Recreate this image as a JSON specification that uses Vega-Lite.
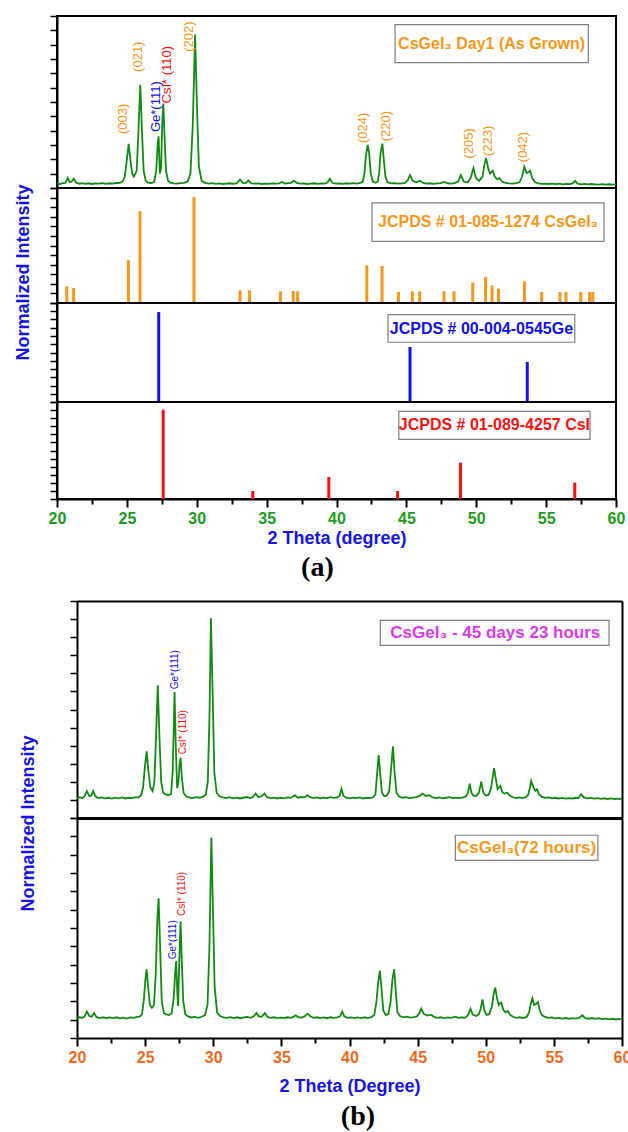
{
"$schema":"https://vega.github.io/schema/vega-lite/v6.json",
"padding":{"left":12,"top":14,"right":0,"bottom":0},
"spacing":18,
"config":{"font":"Liberation Sans","view":{"stroke":"#000000","strokeWidth":2}},
"datasets":{
"day1":[{"t":20.0,"i":3.2},{"t":20.2,"i":2.8},{"t":20.4,"i":3.4},{"t":20.6,"i":3.6},{"t":20.77,"i":7.0},{"t":20.9,"i":4.2},{"t":21.05,"i":4.4},{"t":21.2,"i":6.5},{"t":21.35,"i":3.8},{"t":21.6,"i":3.0},{"t":21.8,"i":3.4},{"t":22.0,"i":2.9},{"t":22.25,"i":3.3},{"t":22.5,"i":2.8},{"t":22.75,"i":3.2},{"t":23.0,"i":3.0},{"t":23.25,"i":3.4},{"t":23.5,"i":2.9},{"t":23.75,"i":3.3},{"t":24.0,"i":3.1},{"t":24.25,"i":3.5},{"t":24.5,"i":3.6},{"t":24.7,"i":4.5},{"t":24.85,"i":8},{"t":25.0,"i":20},{"t":25.13,"i":30.8},{"t":25.25,"i":20},{"t":25.38,"i":10},{"t":25.5,"i":8},{"t":25.7,"i":12},{"t":25.83,"i":40},{"t":25.96,"i":72},{"t":26.08,"i":40},{"t":26.2,"i":12},{"t":26.35,"i":5},{"t":26.5,"i":3.8},{"t":26.75,"i":3.5},{"t":26.95,"i":4.2},{"t":27.1,"i":12},{"t":27.2,"i":30},{"t":27.27,"i":36},{"t":27.36,"i":10},{"t":27.45,"i":14},{"t":27.53,"i":45},{"t":27.61,"i":59},{"t":27.7,"i":35},{"t":27.8,"i":12},{"t":27.95,"i":5},{"t":28.1,"i":3.8},{"t":28.35,"i":3.3},{"t":28.6,"i":3.0},{"t":28.85,"i":3.4},{"t":29.1,"i":3.6},{"t":29.35,"i":4.5},{"t":29.55,"i":10},{"t":29.72,"i":45},{"t":29.88,"i":107},{"t":30.02,"i":55},{"t":30.15,"i":15},{"t":30.35,"i":5},{"t":30.6,"i":3.5},{"t":30.85,"i":3.1},{"t":31.1,"i":3.4},{"t":31.35,"i":2.9},{"t":31.6,"i":3.2},{"t":31.85,"i":2.8},{"t":32.1,"i":3.1},{"t":32.35,"i":3.3},{"t":32.6,"i":2.9},{"t":32.85,"i":3.2},{"t":33.1,"i":5.8},{"t":33.3,"i":3.6},{"t":33.5,"i":3.4},{"t":33.7,"i":5.2},{"t":33.9,"i":3.3},{"t":34.15,"i":3.0},{"t":34.4,"i":3.2},{"t":34.65,"i":2.8},{"t":34.9,"i":3.1},{"t":35.15,"i":2.9},{"t":35.4,"i":3.2},{"t":35.65,"i":3.0},{"t":35.9,"i":3.3},{"t":36.1,"i":4.2},{"t":36.3,"i":3.1},{"t":36.55,"i":3.4},{"t":36.75,"i":3.6},{"t":36.95,"i":5.0},{"t":37.15,"i":3.6},{"t":37.4,"i":3.0},{"t":37.65,"i":3.2},{"t":37.9,"i":2.8},{"t":38.15,"i":3.1},{"t":38.4,"i":3.3},{"t":38.65,"i":2.9},{"t":38.9,"i":3.2},{"t":39.15,"i":3.0},{"t":39.35,"i":3.8},{"t":39.53,"i":6.5},{"t":39.7,"i":3.6},{"t":39.95,"i":3.0},{"t":40.2,"i":3.2},{"t":40.45,"i":2.9},{"t":40.7,"i":3.3},{"t":40.95,"i":3.0},{"t":41.2,"i":3.4},{"t":41.45,"i":3.1},{"t":41.7,"i":3.5},{"t":41.88,"i":4.5},{"t":42.0,"i":10},{"t":42.1,"i":22},{"t":42.23,"i":30},{"t":42.33,"i":25},{"t":42.45,"i":10},{"t":42.6,"i":4.5},{"t":42.8,"i":3.6},{"t":42.95,"i":4.5},{"t":43.05,"i":10},{"t":43.15,"i":24},{"t":43.28,"i":31},{"t":43.4,"i":18},{"t":43.5,"i":8},{"t":43.65,"i":4},{"t":43.9,"i":3.2},{"t":44.15,"i":3.4},{"t":44.4,"i":3.0},{"t":44.65,"i":3.3},{"t":44.9,"i":3.6},{"t":45.1,"i":5.5},{"t":45.26,"i":9},{"t":45.45,"i":5},{"t":45.7,"i":4.0},{"t":45.97,"i":5.0},{"t":46.2,"i":3.5},{"t":46.45,"i":3.0},{"t":46.7,"i":3.3},{"t":46.95,"i":2.9},{"t":47.2,"i":3.2},{"t":47.45,"i":3.4},{"t":47.7,"i":4.2},{"t":47.95,"i":3.3},{"t":48.2,"i":3.1},{"t":48.45,"i":3.4},{"t":48.7,"i":4.5},{"t":48.9,"i":9},{"t":49.1,"i":4.5},{"t":49.4,"i":4.0},{"t":49.6,"i":7},{"t":49.8,"i":14},{"t":49.98,"i":7},{"t":50.2,"i":5},{"t":50.45,"i":8},{"t":50.58,"i":16},{"t":50.7,"i":21},{"t":50.85,"i":14},{"t":50.98,"i":10},{"t":51.18,"i":12},{"t":51.32,"i":8},{"t":51.5,"i":6},{"t":51.65,"i":7},{"t":51.85,"i":4.5},{"t":52.1,"i":3.5},{"t":52.35,"i":3.2},{"t":52.6,"i":3.0},{"t":52.85,"i":3.4},{"t":53.1,"i":4},{"t":53.28,"i":8},{"t":53.44,"i":14.7},{"t":53.6,"i":10.5},{"t":53.72,"i":11},{"t":53.85,"i":12},{"t":54.0,"i":7},{"t":54.2,"i":4},{"t":54.45,"i":3.2},{"t":54.7,"i":2.9},{"t":54.95,"i":3.1},{"t":55.2,"i":2.8},{"t":55.45,"i":3.0},{"t":55.7,"i":2.7},{"t":55.95,"i":3.0},{"t":56.2,"i":2.6},{"t":56.45,"i":2.9},{"t":56.7,"i":2.7},{"t":56.9,"i":3.2},{"t":57.07,"i":5},{"t":57.25,"i":3.0},{"t":57.5,"i":2.6},{"t":57.75,"i":2.9},{"t":58.0,"i":2.5},{"t":58.25,"i":2.8},{"t":58.5,"i":2.6},{"t":58.75,"i":2.4},{"t":59.0,"i":2.7},{"t":59.25,"i":2.4},{"t":59.5,"i":2.6},{"t":59.75,"i":2.3},{"t":60.0,"i":2.5}],
"d45":[{"t":20.0,"i":10.8},{"t":20.2,"i":11.5},{"t":20.4,"i":11.0},{"t":20.55,"i":12.0},{"t":20.72,"i":14.9},{"t":20.9,"i":12.2},{"t":21.05,"i":12.4},{"t":21.19,"i":14.9},{"t":21.35,"i":12.0},{"t":21.55,"i":11.0},{"t":21.8,"i":11.4},{"t":22.05,"i":10.9},{"t":22.3,"i":11.2},{"t":22.55,"i":10.7},{"t":22.8,"i":11.3},{"t":23.05,"i":10.9},{"t":23.3,"i":11.4},{"t":23.55,"i":10.8},{"t":23.8,"i":11.2},{"t":24.05,"i":11.0},{"t":24.3,"i":11.5},{"t":24.5,"i":11.3},{"t":24.7,"i":12.5},{"t":24.85,"i":17},{"t":24.98,"i":28},{"t":25.11,"i":36.9},{"t":25.24,"i":26},{"t":25.38,"i":17},{"t":25.55,"i":14.9},{"t":25.68,"i":20},{"t":25.8,"i":45},{"t":25.93,"i":73.4},{"t":26.05,"i":45},{"t":26.18,"i":20},{"t":26.32,"i":14},{"t":26.5,"i":13.1},{"t":26.7,"i":12.6},{"t":26.9,"i":13.2},{"t":27.02,"i":25},{"t":27.1,"i":50},{"t":27.16,"i":69.7},{"t":27.25,"i":40},{"t":27.35,"i":16.5},{"t":27.45,"i":20},{"t":27.53,"i":30},{"t":27.6,"i":33.4},{"t":27.7,"i":22},{"t":27.82,"i":14},{"t":28.0,"i":12},{"t":28.25,"i":11.3},{"t":28.5,"i":11.0},{"t":28.75,"i":11.5},{"t":29.0,"i":11.2},{"t":29.25,"i":11.8},{"t":29.45,"i":13},{"t":29.6,"i":20},{"t":29.72,"i":55},{"t":29.83,"i":110.4},{"t":29.95,"i":70},{"t":30.08,"i":25},{"t":30.25,"i":14},{"t":30.45,"i":12},{"t":30.7,"i":11.4},{"t":30.95,"i":11.0},{"t":31.2,"i":11.5},{"t":31.45,"i":10.9},{"t":31.7,"i":11.3},{"t":31.95,"i":10.8},{"t":32.2,"i":11.2},{"t":32.45,"i":11.6},{"t":32.7,"i":11.0},{"t":32.9,"i":11.5},{"t":33.11,"i":13.5},{"t":33.3,"i":11.6},{"t":33.5,"i":11.8},{"t":33.76,"i":13.5},{"t":33.95,"i":11.5},{"t":34.2,"i":11.0},{"t":34.45,"i":11.3},{"t":34.7,"i":10.8},{"t":34.95,"i":11.2},{"t":35.2,"i":10.9},{"t":35.45,"i":11.4},{"t":35.7,"i":11.1},{"t":35.99,"i":12.6},{"t":36.2,"i":11.2},{"t":36.45,"i":11.6},{"t":36.7,"i":11.4},{"t":36.9,"i":12.6},{"t":37.1,"i":11.5},{"t":37.35,"i":11.0},{"t":37.6,"i":11.4},{"t":37.85,"i":10.9},{"t":38.1,"i":11.3},{"t":38.35,"i":11.0},{"t":38.6,"i":11.5},{"t":38.85,"i":11.1},{"t":39.1,"i":11.4},{"t":39.28,"i":12.5},{"t":39.41,"i":16.2},{"t":39.55,"i":12.3},{"t":39.75,"i":11.2},{"t":40.0,"i":10.9},{"t":40.25,"i":11.3},{"t":40.5,"i":11.0},{"t":40.75,"i":11.4},{"t":41.0,"i":10.8},{"t":41.25,"i":11.2},{"t":41.5,"i":11.0},{"t":41.75,"i":11.6},{"t":41.9,"i":13},{"t":42.02,"i":24},{"t":42.14,"i":34.8},{"t":42.26,"i":24},{"t":42.38,"i":14},{"t":42.55,"i":12},{"t":42.75,"i":12.5},{"t":42.92,"i":15},{"t":43.06,"i":28},{"t":43.19,"i":39.6},{"t":43.31,"i":25},{"t":43.45,"i":14},{"t":43.65,"i":11.8},{"t":43.9,"i":11.2},{"t":44.15,"i":11.5},{"t":44.4,"i":11.0},{"t":44.65,"i":11.3},{"t":44.9,"i":11.6},{"t":45.15,"i":12.2},{"t":45.36,"i":13.5},{"t":45.6,"i":12.2},{"t":45.86,"i":12.6},{"t":46.1,"i":11.4},{"t":46.35,"i":11.0},{"t":46.6,"i":11.4},{"t":46.85,"i":10.9},{"t":47.1,"i":11.2},{"t":47.35,"i":11.5},{"t":47.6,"i":11.0},{"t":47.85,"i":11.3},{"t":48.1,"i":11.0},{"t":48.35,"i":11.4},{"t":48.55,"i":12},{"t":48.7,"i":14},{"t":48.82,"i":19},{"t":48.95,"i":14},{"t":49.1,"i":12.4},{"t":49.3,"i":12.2},{"t":49.5,"i":14},{"t":49.67,"i":20.1},{"t":49.82,"i":14},{"t":50.0,"i":12.5},{"t":50.2,"i":12.8},{"t":50.38,"i":16},{"t":50.5,"i":22},{"t":50.61,"i":27.6},{"t":50.73,"i":22},{"t":50.87,"i":16},{"t":50.98,"i":17},{"t":51.08,"i":17.7},{"t":51.2,"i":14.5},{"t":51.35,"i":13.5},{"t":51.58,"i":14},{"t":51.75,"i":12.5},{"t":51.95,"i":11.6},{"t":52.2,"i":11.0},{"t":52.45,"i":11.4},{"t":52.7,"i":11.0},{"t":52.95,"i":11.5},{"t":53.12,"i":13},{"t":53.25,"i":17},{"t":53.33,"i":20.5},{"t":53.5,"i":17},{"t":53.63,"i":15},{"t":53.77,"i":15.9},{"t":53.92,"i":13},{"t":54.1,"i":11.8},{"t":54.35,"i":11.2},{"t":54.6,"i":11.4},{"t":54.85,"i":10.9},{"t":55.1,"i":11.2},{"t":55.35,"i":10.8},{"t":55.6,"i":11.1},{"t":55.85,"i":10.7},{"t":56.1,"i":11.0},{"t":56.35,"i":10.8},{"t":56.6,"i":11.2},{"t":56.8,"i":11.0},{"t":57.0,"i":13.1},{"t":57.2,"i":11.4},{"t":57.45,"i":10.9},{"t":57.7,"i":11.1},{"t":57.95,"i":10.7},{"t":58.2,"i":11.0},{"t":58.45,"i":10.6},{"t":58.7,"i":10.9},{"t":58.95,"i":10.5},{"t":59.2,"i":10.8},{"t":59.45,"i":10.4},{"t":59.7,"i":10.7},{"t":60.0,"i":10.5}],
"h72":[{"t":20.0,"i":10.9},{"t":20.2,"i":11.3},{"t":20.4,"i":11.0},{"t":20.56,"i":11.8},{"t":20.72,"i":14.4},{"t":20.9,"i":12.0},{"t":21.08,"i":11.6},{"t":21.25,"i":13.6},{"t":21.42,"i":11.5},{"t":21.65,"i":10.9},{"t":21.9,"i":11.3},{"t":22.15,"i":10.8},{"t":22.4,"i":11.2},{"t":22.65,"i":10.9},{"t":22.9,"i":11.3},{"t":23.15,"i":10.7},{"t":23.4,"i":11.1},{"t":23.65,"i":10.6},{"t":23.9,"i":11.2},{"t":24.15,"i":11.0},{"t":24.4,"i":11.5},{"t":24.6,"i":11.7},{"t":24.78,"i":13},{"t":24.92,"i":22},{"t":25.02,"i":32},{"t":25.11,"i":37.5},{"t":25.22,"i":28},{"t":25.35,"i":18},{"t":25.5,"i":16.5},{"t":25.65,"i":18},{"t":25.78,"i":35},{"t":25.9,"i":65},{"t":25.99,"i":76.2},{"t":26.1,"i":50},{"t":26.22,"i":20},{"t":26.38,"i":13.5},{"t":26.55,"i":12.9},{"t":26.75,"i":12.5},{"t":26.95,"i":13.5},{"t":27.1,"i":22},{"t":27.2,"i":35},{"t":27.28,"i":42},{"t":27.36,"i":25},{"t":27.42,"i":17.5},{"t":27.5,"i":40},{"t":27.6,"i":63.5},{"t":27.7,"i":40},{"t":27.8,"i":20},{"t":27.95,"i":13},{"t":28.15,"i":11.8},{"t":28.4,"i":11.2},{"t":28.65,"i":11.5},{"t":28.9,"i":11.0},{"t":29.15,"i":11.6},{"t":29.4,"i":12.5},{"t":29.58,"i":18},{"t":29.72,"i":50},{"t":29.86,"i":109.3},{"t":29.98,"i":70},{"t":30.1,"i":28},{"t":30.28,"i":14},{"t":30.5,"i":12},{"t":30.75,"i":11.3},{"t":31.0,"i":11.0},{"t":31.25,"i":11.4},{"t":31.5,"i":10.9},{"t":31.75,"i":11.3},{"t":32.0,"i":10.8},{"t":32.25,"i":11.2},{"t":32.5,"i":11.5},{"t":32.75,"i":11.0},{"t":32.97,"i":11.8},{"t":33.17,"i":13.6},{"t":33.35,"i":11.8},{"t":33.55,"i":11.6},{"t":33.79,"i":13.6},{"t":33.98,"i":11.5},{"t":34.2,"i":11.0},{"t":34.45,"i":11.3},{"t":34.7,"i":10.8},{"t":34.95,"i":11.1},{"t":35.2,"i":10.9},{"t":35.45,"i":11.3},{"t":35.7,"i":11.0},{"t":35.88,"i":11.5},{"t":36.04,"i":12.4},{"t":36.25,"i":11.3},{"t":36.5,"i":11.2},{"t":36.7,"i":11.8},{"t":36.92,"i":13.3},{"t":37.12,"i":11.9},{"t":37.35,"i":11.0},{"t":37.6,"i":11.3},{"t":37.85,"i":10.9},{"t":38.1,"i":11.2},{"t":38.35,"i":10.8},{"t":38.6,"i":11.3},{"t":38.85,"i":11.0},{"t":39.1,"i":11.3},{"t":39.3,"i":11.8},{"t":39.47,"i":14.4},{"t":39.62,"i":11.8},{"t":39.85,"i":11.0},{"t":40.1,"i":11.2},{"t":40.35,"i":10.8},{"t":40.6,"i":11.2},{"t":40.85,"i":10.9},{"t":41.1,"i":11.3},{"t":41.35,"i":10.9},{"t":41.6,"i":11.4},{"t":41.82,"i":12.5},{"t":41.98,"i":20},{"t":42.1,"i":30},{"t":42.23,"i":36.7},{"t":42.35,"i":27},{"t":42.48,"i":15},{"t":42.65,"i":12.6},{"t":42.85,"i":13},{"t":43.02,"i":20},{"t":43.15,"i":32},{"t":43.28,"i":37.5},{"t":43.4,"i":25},{"t":43.52,"i":14},{"t":43.7,"i":12},{"t":43.95,"i":11.3},{"t":44.2,"i":11.6},{"t":44.45,"i":11.1},{"t":44.7,"i":11.4},{"t":44.95,"i":11.8},{"t":45.12,"i":13.5},{"t":45.27,"i":16},{"t":45.45,"i":13.2},{"t":45.7,"i":12.2},{"t":46.0,"i":12.7},{"t":46.2,"i":11.5},{"t":46.45,"i":11.0},{"t":46.7,"i":11.3},{"t":46.95,"i":10.9},{"t":47.2,"i":11.2},{"t":47.45,"i":11.0},{"t":47.77,"i":11.6},{"t":48.0,"i":11.0},{"t":48.25,"i":11.3},{"t":48.5,"i":11.1},{"t":48.7,"i":12.5},{"t":48.88,"i":16},{"t":49.05,"i":12.8},{"t":49.3,"i":12.0},{"t":49.5,"i":13},{"t":49.63,"i":16},{"t":49.76,"i":21.1},{"t":49.9,"i":15},{"t":50.05,"i":12.6},{"t":50.25,"i":13},{"t":50.45,"i":17},{"t":50.58,"i":24},{"t":50.7,"i":27.5},{"t":50.82,"i":22},{"t":50.95,"i":18},{"t":51.05,"i":19},{"t":51.14,"i":19.3},{"t":51.28,"i":15.5},{"t":51.45,"i":14},{"t":51.63,"i":14.7},{"t":51.8,"i":12.5},{"t":52.0,"i":11.6},{"t":52.25,"i":11.0},{"t":52.5,"i":11.3},{"t":52.75,"i":10.9},{"t":53.0,"i":11.5},{"t":53.18,"i":14},{"t":53.3,"i":18.5},{"t":53.42,"i":21.7},{"t":53.55,"i":18},{"t":53.68,"i":18.5},{"t":53.83,"i":19.6},{"t":53.97,"i":15},{"t":54.12,"i":12.5},{"t":54.35,"i":11.5},{"t":54.6,"i":11.0},{"t":54.85,"i":11.2},{"t":55.1,"i":10.7},{"t":55.35,"i":11.0},{"t":55.6,"i":10.6},{"t":55.85,"i":10.9},{"t":56.1,"i":10.5},{"t":56.35,"i":10.8},{"t":56.6,"i":10.6},{"t":56.85,"i":11.0},{"t":57.08,"i":12.4},{"t":57.3,"i":10.8},{"t":57.55,"i":10.5},{"t":57.8,"i":10.9},{"t":58.05,"i":10.4},{"t":58.3,"i":10.8},{"t":58.55,"i":10.3},{"t":58.8,"i":10.6},{"t":59.05,"i":10.2},{"t":59.3,"i":10.5},{"t":59.55,"i":10.1},{"t":59.8,"i":10.4},{"t":60.0,"i":10.2}],
"csgei3":[{"t":20.70,"i":17.4},{"t":21.19,"i":15.7},{"t":25.11,"i":44.6},{"t":25.94,"i":95.7},{"t":29.80,"i":110.7},{"t":33.10,"i":13.2},{"t":33.78,"i":13.2},{"t":35.99,"i":12.2},{"t":36.90,"i":12.5},{"t":37.22,"i":12.2},{"t":42.17,"i":39.3},{"t":43.26,"i":38.6},{"t":44.43,"i":11.5},{"t":45.43,"i":12.2},{"t":45.95,"i":12.2},{"t":47.69,"i":12.2},{"t":48.41,"i":12.2},{"t":49.75,"i":21.2},{"t":50.67,"i":27.1},{"t":51.13,"i":18.4},{"t":51.59,"i":15.0},{"t":53.45,"i":22.6},{"t":54.68,"i":11.5},{"t":55.99,"i":11.5},{"t":56.42,"i":11.5},{"t":57.48,"i":11.5},{"t":58.11,"i":11.5},{"t":58.34,"i":11.5}],
"ge":[{"t":27.28,"i":109},{"t":45.26,"i":66.7},{"t":53.65,"i":48.5}],
"csi":[{"t":27.60,"i":110.5},{"t":34.01,"i":9.9},{"t":39.45,"i":27.2},{"t":44.37,"i":9.9},{"t":48.87,"i":45},{"t":57.05,"i":20.2}],
"lab1":[{"t":24.70,"i":37.7,"label":"(003)","phase":"CsGeI3"},{"t":25.77,"i":81,"label":"(021)","phase":"CsGeI3"},{"t":27.08,"i":39,"label":"Ge*(111)","phase":"Ge"},{"t":27.87,"i":59,"label":"CsI* (110)","phase":"CsI"},{"t":29.45,"i":95,"label":"(202)","phase":"CsGeI3"},{"t":41.87,"i":31.4,"label":"(024)","phase":"CsGeI3"},{"t":43.54,"i":32.6,"label":"(220)","phase":"CsGeI3"},{"t":49.5,"i":20.5,"label":"(205)","phase":"CsGeI3"},{"t":50.86,"i":22.3,"label":"(223)","phase":"CsGeI3"},{"t":53.37,"i":18,"label":"(042)","phase":"CsGeI3"}],
"lab5":[{"t":27.17,"i":71.2,"label":"Ge*(111)","phase":"Ge"},{"t":27.75,"i":35.2,"label":"CsI* (110)","phase":"CsI"}],
"lab6":[{"t":27.05,"i":42.9,"label":"Ge*(111)","phase":"Ge"},{"t":27.69,"i":66.5,"label":"CsI* (110)","phase":"CsI"}],
"boxes":[{"panel":"p1","t":44.19,"t2":58.02,"i":87.5,"i2":114},{"panel":"p2","t":42.54,"t2":59.14,"i":64.4,"i2":104.4},{"panel":"p3","t":43.69,"t2":57.05,"i":72.4,"i2":105.8},{"panel":"p4","t":44.46,"t2":58.14,"i":73.8,"i2":108.5},{"panel":"p5","t":42.26,"t2":59.05,"i":95.5,"i2":109.3},{"panel":"p6","t":47.77,"t2":58.23,"i":96.9,"i2":110.6}],
"legends":[{"panel":"p1","t":51.1,"i":100.7,"text":"CsGeI₃ Day1 (As Grown)","phase":"CsGeI3"},{"panel":"p2","t":50.84,"i":84.4,"text":"JCPDS # 01-085-1274 CsGeI₃","phase":"CsGeI3"},{"panel":"p3","t":50.37,"i":88.5,"text":"JCPDS # 00-004-0545Ge","phase":"Ge"},{"panel":"p4","t":51.3,"i":91,"text":"JCPDS # 01-089-4257 CsI","phase":"CsI"},{"panel":"p5","t":50.7,"i":102.4,"text":"CsGeI₃ - 45 days 23 hours","phase":"aged"},{"panel":"p6","t":53.0,"i":103.8,"text":"CsGeI₃(72 hours)","phase":"CsGeI3"}]
},
"vconcat":[
{
"title":{"text":"(a)","orient":"bottom","font":"Liberation Serif","fontSize":28,"fontWeight":"bold","color":"#000000","offset":6,"anchor":"middle","frame":"bounds","dx":-2},
"spacing":0,
"bounds":"flush",
"vconcat":[
{"width":559,"height":172,
"encoding":{"x":{"field":"t","type":"quantitative","scale":{"domain":[20,60],"nice":false},"axis":null},"y":{"field":"i","type":"quantitative","scale":{"domain":[0,120],"nice":false},"axis":{"values":[0,10,20,30,40,50,60,70,80,90,100,110,120],"labels":false,"tickSize":7,"tickWidth":1.5,"tickColor":"#000000","domainColor":"#000000","domainWidth":2,"grid":false,"title":null}}},
"layer":[
{"data":{"name":"day1"},"mark":{"type":"line","color":"#138A13","strokeWidth":1.8}},
{"data":{"name":"lab1"},"mark":{"type":"text","angle":270,"align":"left","baseline":"middle","fontSize":13},"encoding":{"text":{"field":"label"},"color":{"field":"phase","type":"nominal","scale":{"domain":["CsGeI3","Ge","CsI","aged"],"range":["#F7981D","#1010F0","#FF1010","#D93AF0"]},"legend":null}}},
{"data":{"name":"boxes"},"transform":[{"filter":"datum.panel==='p1'"}],"mark":{"type":"rect","fill":"#FFFFFF","stroke":"#7F7F7F","strokeWidth":1.2},"encoding":{"x2":{"field":"t2"},"y2":{"field":"i2"}}},
{"data":{"name":"legends"},"transform":[{"filter":"datum.panel==='p1'"}],"mark":{"type":"text","fontSize":16,"fontWeight":"bold"},"encoding":{"text":{"field":"text"},"color":{"field":"phase","type":"nominal","scale":{"domain":["CsGeI3","Ge","CsI","aged"],"range":["#F7981D","#1010F0","#FF1010","#D93AF0"]},"legend":null}}}
]},
{"width":559,"height":115,
"encoding":{"x":{"field":"t","type":"quantitative","scale":{"domain":[20,60],"nice":false},"axis":null},"y":{"field":"i","type":"quantitative","scale":{"domain":[0,120],"nice":false},"axis":{"values":[0,10,20,30,40,50,60,70,80,90,100,110,120],"labels":false,"tickSize":7,"tickWidth":1.5,"tickColor":"#000000","domainColor":"#000000","domainWidth":2,"grid":false,"title":"Normalized Intensity","titleColor":"#1414E6","titleFontSize":18,"titleFontWeight":"bold","titleAngle":270,"titleX":-29,"titleY":84,"titleAlign":"center","titleBaseline":"alphabetic"}}},
"layer":[
{"data":{"name":"csgei3"},"mark":{"type":"rule","color":"#F7981D","strokeWidth":3},"encoding":{"y2":{"datum":0}}},
{"data":{"name":"boxes"},"transform":[{"filter":"datum.panel==='p2'"}],"mark":{"type":"rect","fill":"#FFFFFF","stroke":"#7F7F7F","strokeWidth":1.2},"encoding":{"x2":{"field":"t2"},"y2":{"field":"i2"}}},
{"data":{"name":"legends"},"transform":[{"filter":"datum.panel==='p2'"}],"mark":{"type":"text","fontSize":16,"fontWeight":"bold"},"encoding":{"text":{"field":"text"},"color":{"field":"phase","type":"nominal","scale":{"domain":["CsGeI3","Ge","CsI","aged"],"range":["#F7981D","#1010F0","#FF1010","#D93AF0"]},"legend":null}}}
]},
{"width":559,"height":99,
"encoding":{"x":{"field":"t","type":"quantitative","scale":{"domain":[20,60],"nice":false},"axis":null},"y":{"field":"i","type":"quantitative","scale":{"domain":[0,120],"nice":false},"axis":{"values":[0,10,20,30,40,50,60,70,80,90,100,110,120],"labels":false,"tickSize":7,"tickWidth":1.5,"tickColor":"#000000","domainColor":"#000000","domainWidth":2,"grid":false,"title":null}}},
"layer":[
{"data":{"name":"ge"},"mark":{"type":"rule","color":"#1010F0","strokeWidth":3},"encoding":{"y2":{"datum":0}}},
{"data":{"name":"boxes"},"transform":[{"filter":"datum.panel==='p3'"}],"mark":{"type":"rect","fill":"#FFFFFF","stroke":"#7F7F7F","strokeWidth":1.2},"encoding":{"x2":{"field":"t2"},"y2":{"field":"i2"}}},
{"data":{"name":"legends"},"transform":[{"filter":"datum.panel==='p3'"}],"mark":{"type":"text","fontSize":16,"fontWeight":"bold"},"encoding":{"text":{"field":"text"},"color":{"field":"phase","type":"nominal","scale":{"domain":["CsGeI3","Ge","CsI","aged"],"range":["#F7981D","#1010F0","#FF1010","#D93AF0"]},"legend":null}}}
]},
{"width":559,"height":97,"resolve":{"axis":{"x":"independent"}},
"encoding":{"x":{"field":"t","type":"quantitative","scale":{"domain":[20,60],"nice":false},"axis":{"orient":"bottom","values":[20,25,30,35,40,45,50,55,60],"format":"d","labelColor":"#1E9A1E","labelFontSize":16,"labelFontWeight":"bold","labelPadding":3,"labelFlush":false,"labelOverlap":false,"tickSize":8,"tickWidth":2,"tickColor":"#000000","domainColor":"#000000","domainWidth":2,"grid":false,"title":"2 Theta (degree)","titleColor":"#1414E6","titleFontSize":18,"titleFontWeight":"bold","titlePadding":3}},"y":{"field":"i","type":"quantitative","scale":{"domain":[0,120],"nice":false},"axis":{"values":[0,10,20,30,40,50,60,70,80,90,100,110,120],"labels":false,"tickSize":7,"tickWidth":1.5,"tickColor":"#000000","domainColor":"#000000","domainWidth":2,"grid":false,"title":null}}},
"layer":[
{"data":{"name":"csi"},"mark":{"type":"rule","color":"#FF1010","strokeWidth":3},"encoding":{"y2":{"datum":0}}},
{"data":{"name":"boxes"},"transform":[{"filter":"datum.panel==='p4'"}],"mark":{"type":"rect","fill":"#FFFFFF","stroke":"#7F7F7F","strokeWidth":1.2},"encoding":{"x":{"field":"t","type":"quantitative","axis":{"orient":"bottom","values":[22.5,27.5,32.5,37.5,42.5,47.5,52.5,57.5],"labels":false,"tickSize":5,"tickWidth":2,"tickColor":"#000000","domain":false,"grid":false,"title":null}},"x2":{"field":"t2"},"y2":{"field":"i2"}}},
{"data":{"name":"legends"},"transform":[{"filter":"datum.panel==='p4'"}],"mark":{"type":"text","fontSize":16,"fontWeight":"bold"},"encoding":{"x":{"field":"t","type":"quantitative","axis":null},"text":{"field":"text"},"color":{"field":"phase","type":"nominal","scale":{"domain":["CsGeI3","Ge","CsI","aged"],"range":["#F7981D","#1010F0","#FF1010","#D93AF0"]},"legend":null}}}
]}
]
},
{
"title":{"text":"(b)","orient":"bottom","font":"Liberation Serif","fontSize":28,"fontWeight":"bold","color":"#000000","offset":8,"anchor":"middle","frame":"bounds","dx":33},
"spacing":0,
"bounds":"flush",
"vconcat":[
{"width":565,"height":217,"view":{"stroke":null},"resolve":{"axis":{"x":"independent","y":"independent"}},
"layer":[
{"data":{"name":"d45"},"mark":{"type":"line","color":"#138A13","strokeWidth":1.8},"encoding":{"x":{"field":"t","type":"quantitative","scale":{"domain":[20,60],"nice":false,"range":[20,565]},"axis":{"orient":"bottom","ticks":false,"labels":false,"domain":true,"domainColor":"#000000","domainWidth":3,"grid":false,"title":null}},"y":{"field":"i","type":"quantitative","scale":{"domain":[0,120],"nice":false},"axis":{"orient":"left","offset":-20,"values":[0,10,20,30,40,50,60,70,80,90,100,110,120],"labels":false,"tickSize":7,"tickWidth":1.5,"tickColor":"#000000","domainColor":"#000000","domainWidth":2,"grid":false,"title":"Normalized Intensity","titleColor":"#1414E6","titleFontSize":18,"titleFontWeight":"bold","titleAngle":270,"titleX":-44,"titleY":222,"titleAlign":"center","titleBaseline":"alphabetic"}}}},
{"data":{"name":"lab5"},"mark":{"type":"text","angle":270,"align":"left","baseline":"middle","fontSize":10},"encoding":{"x":{"field":"t","type":"quantitative","scale":{"domain":[20,60],"nice":false,"range":[20,565]},"axis":{"orient":"top","ticks":false,"labels":false,"domain":true,"domainColor":"#000000","domainWidth":2,"grid":false,"title":null}},"y":{"field":"i","type":"quantitative","axis":{"orient":"right","ticks":false,"labels":false,"domain":true,"domainColor":"#000000","domainWidth":2,"grid":false,"title":null}},"text":{"field":"label"},"color":{"field":"phase","type":"nominal","scale":{"domain":["CsGeI3","Ge","CsI","aged"],"range":["#F7981D","#1010F0","#FF1010","#D93AF0"]},"legend":null}}},
{"data":{"name":"boxes"},"transform":[{"filter":"datum.panel==='p5'"}],"mark":{"type":"rect","fill":"#FFFFFF","stroke":"#7F7F7F","strokeWidth":1.2},"encoding":{"x":{"field":"t","type":"quantitative","axis":null},"x2":{"field":"t2"},"y":{"field":"i","type":"quantitative","axis":null},"y2":{"field":"i2"}}},
{"data":{"name":"legends"},"transform":[{"filter":"datum.panel==='p5'"}],"mark":{"type":"text","fontSize":17,"fontWeight":"bold"},"encoding":{"x":{"field":"t","type":"quantitative","axis":null},"y":{"field":"i","type":"quantitative","axis":null},"text":{"field":"text"},"color":{"field":"phase","type":"nominal","scale":{"domain":["CsGeI3","Ge","CsI","aged"],"range":["#F7981D","#1010F0","#FF1010","#D93AF0"]},"legend":null}}}
]},
{"width":565,"height":220,"view":{"stroke":null},"resolve":{"axis":{"x":"independent","y":"independent"}},
"layer":[
{"data":{"name":"h72"},"mark":{"type":"line","color":"#138A13","strokeWidth":1.8},"encoding":{"x":{"field":"t","type":"quantitative","scale":{"domain":[20,60],"nice":false,"range":[20,565]},"axis":{"orient":"bottom","values":[20,25,30,35,40,45,50,55,60],"format":"d","labelColor":"#F26A21","labelFontSize":16,"labelFontWeight":"bold","labelPadding":3,"labelFlush":false,"labelOverlap":false,"tickSize":8,"tickWidth":2,"tickColor":"#000000","domainColor":"#000000","domainWidth":2,"grid":false,"title":"2 Theta (Degree)","titleColor":"#1414E6","titleFontSize":18,"titleFontWeight":"bold","titlePadding":12}},"y":{"field":"i","type":"quantitative","scale":{"domain":[0,120],"nice":false},"axis":{"orient":"left","offset":-20,"values":[0,10,20,30,40,50,60,70,80,90,100,110,120],"labels":false,"tickSize":7,"tickWidth":1.5,"tickColor":"#000000","domainColor":"#000000","domainWidth":2,"grid":false,"title":null}}}},
{"data":{"name":"lab6"},"mark":{"type":"text","angle":270,"align":"left","baseline":"middle","fontSize":10},"encoding":{"x":{"field":"t","type":"quantitative","scale":{"domain":[20,60],"nice":false,"range":[20,565]},"axis":{"orient":"top","ticks":false,"labels":false,"domain":true,"domainColor":"#000000","domainWidth":3,"grid":false,"title":null}},"y":{"field":"i","type":"quantitative","axis":{"orient":"right","ticks":false,"labels":false,"domain":true,"domainColor":"#000000","domainWidth":2,"grid":false,"title":null}},"text":{"field":"label"},"color":{"field":"phase","type":"nominal","scale":{"domain":["CsGeI3","Ge","CsI","aged"],"range":["#F7981D","#1010F0","#FF1010","#D93AF0"]},"legend":null}}},
{"data":{"name":"boxes"},"transform":[{"filter":"datum.panel==='p6'"}],"mark":{"type":"rect","fill":"#FFFFFF","stroke":"#7F7F7F","strokeWidth":1.2},"encoding":{"x":{"field":"t","type":"quantitative","axis":{"orient":"bottom","values":[22.5,27.5,32.5,37.5,42.5,47.5,52.5,57.5],"labels":false,"tickSize":5,"tickWidth":2,"tickColor":"#000000","domain":false,"grid":false,"title":null}},"x2":{"field":"t2"},"y":{"field":"i","type":"quantitative","axis":null},"y2":{"field":"i2"}}},
{"data":{"name":"legends"},"transform":[{"filter":"datum.panel==='p6'"}],"mark":{"type":"text","fontSize":17,"fontWeight":"bold"},"encoding":{"x":{"field":"t","type":"quantitative","axis":null},"y":{"field":"i","type":"quantitative","axis":null},"text":{"field":"text"},"color":{"field":"phase","type":"nominal","scale":{"domain":["CsGeI3","Ge","CsI","aged"],"range":["#F7981D","#1010F0","#FF1010","#D93AF0"]},"legend":null}}}
]}
]
}
]
}
